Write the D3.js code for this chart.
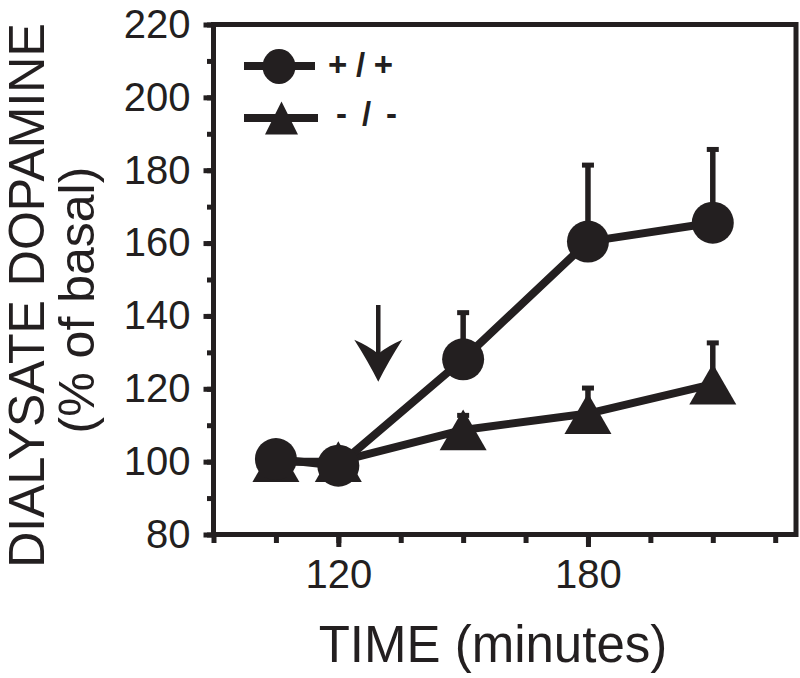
<!DOCTYPE html>
<html>
<head>
<meta charset="utf-8">
<script src="https://cdn.jsdelivr.net/npm/d3@7"></script>
<style>
  html, body { margin: 0; padding: 0; background: #fff; }
  svg { display: block; }
  text { font-family: Arial, "Liberation Sans", Helvetica, sans-serif; fill: #231f20; }
</style>
</head>
<body>
<div id="chart"></div>
<script>
// ---------------- data ----------------
const times = [105, 120, 150, 180, 210];                 // minutes
const wildType = [100.7, 98.9, 128.1, 160.4, 165.6];     // +/+ (% of basal)
const wildTypeSem = [1, 1, 12.8, 21, 20.1];
const knockout = [100, 100, 108.7, 113.2, 121.3];        // -/- (% of basal)
const knockoutSem = [1, 1, 4, 7, 11.3];
const seriesNames = ["+ / +", "- / -"];
const xLabeledTicks = [120, 180];
const xMinorTicks = [90, 105, 120, 135, 150, 165, 180, 195, 210, 225];
const yLabeledTicks = [80, 100, 120, 140, 160, 180, 200, 220];
const yMinorTicks = [80, 90, 100, 110, 120, 130, 140, 150, 160, 170, 180, 190, 200, 210, 220];
const arrowTime = 129.6, arrowFrom = 143, arrowTo = 121.9;
const xTitle = "TIME (minutes)";
const yTitle1 = "DIALYSATE DOPAMINE";
const yTitle2 = "(% of basal)";

// ---------------- layout ----------------
const W = 800, H = 678;
const INK = "#231f20";
const svg = d3.select("#chart").append("svg").attr("width", W).attr("height", H);

const x = d3.scaleLinear().domain([90, 230]).range([213.5, 796]);
const y = d3.scaleLinear().domain([80, 220]).range([534.5, 24.5]);

// axes (ticks)
const yMinor = d3.axisLeft(y).tickValues(yMinorTicks).tickSize(6.5).tickFormat("");
const yMajor = d3.axisLeft(y).tickValues(yLabeledTicks).tickSize(10).tickPadding(13).tickFormat(d3.format("d"));
const xMinor = d3.axisBottom(x).tickValues(xMinorTicks).tickSize(8.5).tickFormat("");
const xMajor = d3.axisBottom(x).tickValues(xLabeledTicks).tickSize(12.5).tickPadding(13).tickFormat(d3.format("d"));

function styleAxis(g) {
  g.select(".domain").remove();
  g.selectAll(".tick line").attr("stroke", INK).attr("stroke-width", 5);
  g.selectAll(".tick text").style("font-size", "40px").attr("fill", INK);
}
svg.append("g").attr("transform", `translate(${x(90)},0)`).call(yMinor).call(styleAxis);
svg.append("g").attr("transform", `translate(${x(90)},0)`).call(yMajor).call(styleAxis);
svg.append("g").attr("transform", `translate(0,${y(80)})`).call(xMinor).call(styleAxis);
svg.append("g").attr("transform", `translate(0,${y(80)})`).call(xMajor).call(styleAxis);

// frame
svg.append("rect")
  .attr("x", x(90)).attr("y", y(220))
  .attr("width", x(230) - x(90)).attr("height", y(80) - y(220))
  .attr("fill", "none").attr("stroke", INK).attr("stroke-width", 5);

// axis titles
svg.append("text").attr("x", 493).attr("y", 661.5).attr("text-anchor", "middle")
  .style("font-size", "51px").text(xTitle);
svg.append("text").attr("transform", "translate(43.5,295.5) rotate(-90)").attr("text-anchor", "middle")
  .style("font-size", "50px").text(yTitle1);
svg.append("text").attr("transform", "translate(93.5,300) rotate(-90)").attr("text-anchor", "middle")
  .style("font-size", "50px").text(yTitle2);

// series
const triPath = s => { const h = s * Math.sqrt(3) / 2; return `M0,${-h/2}L${s/2},${h/2}L${-s/2},${h/2}Z`; };
const ko = times.map((t, i) => ({ t, v: knockout[i], e: knockoutSem[i] }));
const wt = times.map((t, i) => ({ t, v: wildType[i], e: wildTypeSem[i] }));
const line = d3.line().x(d => x(d.t)).y(d => y(d.v));

function drawSeries(data, kind) {
  const g = svg.append("g");
  // error bars (upward)
  g.selectAll("line.err").data(data).join("line")
    .attr("x1", d => x(d.t)).attr("x2", d => x(d.t))
    .attr("y1", d => y(d.v)).attr("y2", d => y(d.v + d.e))
    .attr("stroke", INK).attr("stroke-width", 5.5);
  g.selectAll("line.cap").data(data).join("line")
    .attr("x1", d => x(d.t) - 6).attr("x2", d => x(d.t) + 6)
    .attr("y1", d => y(d.v + d.e)).attr("y2", d => y(d.v + d.e))
    .attr("stroke", INK).attr("stroke-width", 5);
  g.append("path").datum(data).attr("d", line)
    .attr("fill", "none").attr("stroke", INK).attr("stroke-width", 8).attr("stroke-linejoin", "round");
  if (kind === "circle") {
    g.selectAll("circle").data(data).join("circle")
      .attr("cx", d => x(d.t)).attr("cy", d => y(d.v)).attr("r", 21).attr("fill", INK);
  } else {
    g.selectAll("path.tri").data(data).join("path")
      .attr("transform", d => `translate(${x(d.t)},${y(d.v)})`)
      .attr("d", triPath(47)).attr("fill", INK);
  }
}
drawSeries(ko, "triangle");
drawSeries(wt, "circle");

// arrow annotation
const ax = x(arrowTime), ay0 = y(arrowFrom), ay1 = y(arrowTo);
svg.append("line").attr("x1", ax).attr("x2", ax).attr("y1", ay0).attr("y2", ay1 - 20)
  .attr("stroke", INK).attr("stroke-width", 4.5);
svg.append("path")
  .attr("transform", `translate(${ax},${ay1})`)
  .attr("d", "M0,0 Q-10,-20 -24,-42 Q-10,-36 0,-28 Q10,-36 24,-42 Q10,-20 0,0 Z")
  .attr("fill", INK);

// legend
const legend = svg.append("g");
const legendRows = [{ name: seriesNames[0], kind: "circle", y: 66, x1: 244, x2: 315, mx: 279, tx: 328, ty: 76, tl: 65 },
                    { name: seriesNames[1], kind: "triangle", y: 118, x1: 244, x2: 318, mx: 281.5, tx: 336, ty: 124.5, tl: 61 }];
legendRows.forEach(r => {
  legend.append("line").attr("x1", r.x1).attr("x2", r.x2).attr("y1", r.y).attr("y2", r.y)
    .attr("stroke", INK).attr("stroke-width", 8);
  if (r.kind === "circle") {
    legend.append("ellipse").attr("cx", r.mx).attr("cy", r.y + 0.5).attr("rx", 16.5).attr("ry", 17.5).attr("fill", INK);
  } else {
    legend.append("path").attr("transform", `translate(${r.mx},${r.y})`)
      .attr("d", "M0,-16.5L16.5,16.5L-16.5,16.5Z").attr("fill", INK);
  }
  legend.append("text").attr("x", r.tx).attr("y", r.ty)
    .style("font-size", "33px").style("font-weight", "bold")
    .attr("xml:space", "preserve")
    .attr("textLength", r.tl).attr("lengthAdjust", "spacing")
    .text(r.name);
});
</script>
</body>
</html>
